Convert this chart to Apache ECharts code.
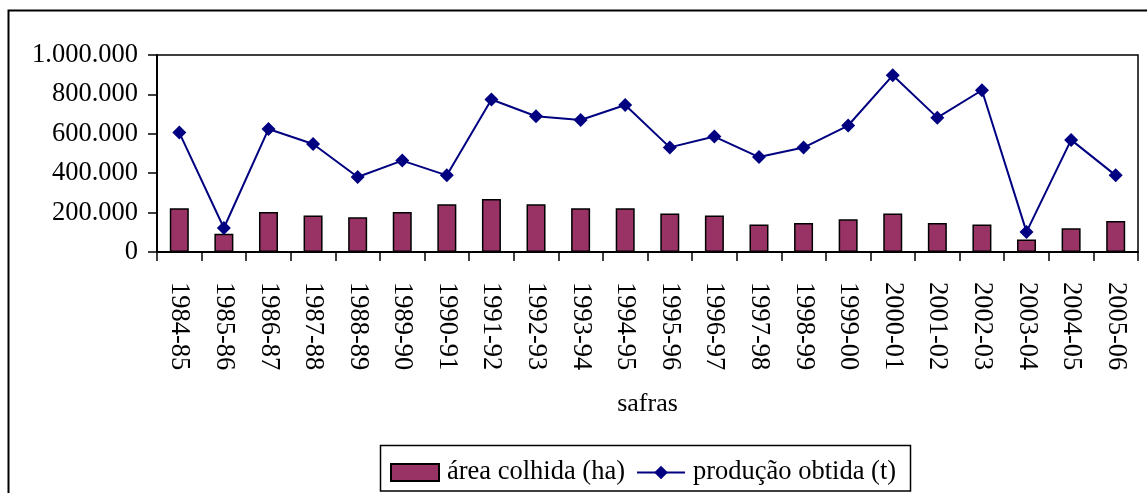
<!DOCTYPE html>
<html>
<head>
<meta charset="utf-8">
<script src="https://cdn.jsdelivr.net/npm/echarts@6/dist/echarts.min.js"></script>
<style>
html,body{margin:0;padding:0;background:#fff;}
#chart{width:1147px;height:493px;}
</style>
</head>
<body>
<div id="chart"></div>
<script>
const categories = ['1984-85','1985-86','1986-87','1987-88','1988-89','1989-90','1990-91','1991-92','1992-93','1993-94','1994-95','1995-96','1996-97','1997-98','1998-99','1999-00','2000-01','2001-02','2002-03','2003-04','2004-05','2005-06'];
const areaColhida = [222000,93000,203000,185000,176000,203000,242000,269000,242000,222000,222000,195000,185000,139000,147000,166000,195000,147000,139000,64000,120000,157000];
const producaoObtida = [606000,122000,624000,548000,381000,464000,389000,774000,689000,670000,746000,531000,586000,482000,530000,642000,897000,682000,821000,102000,569000,389000];
const yTicks = [0,200000,400000,600000,800000,1000000];

const fmt = v => String(v).replace(/\B(?=(\d{3})+(?!\d))/g, '.');
const font = '"Liberation Serif", "Times New Roman", serif';

const chart = echarts.init(document.getElementById('chart'));
chart.setOption({
  animation: false,
  backgroundColor: '#fff',
  textStyle: {fontFamily: font, color: '#000'},
  grid: {left: 157, top: 55, right: 9, bottom: 241, show: true, borderColor: '#000', borderWidth: 1.5, containLabel: false},
  graphic: [
    {type: 'polyline', shape: {points: [[8.5,493],[8.5,10.5],[1147,10.5]]}, style: {stroke: '#000', lineWidth: 2, fill: null}, silent: true},
    {type: 'rect', shape: {x: 380.5, y: 445.5, width: 530, height: 45.5}, style: {stroke: '#000', lineWidth: 1.5, fill: null}, silent: true, z: -1}
  ],
  legend: {
    left: 390, top: 459, padding: 0,
    itemWidth: 48, itemHeight: 17, itemGap: 11,
    textStyle: {fontFamily: font, fontSize: 26.5, color: '#000', padding: [0,0,0,3]},
    data: [{name: 'área colhida (ha)', icon: 'rect'}, {name: 'produção obtida (t)'}]
  },
  xAxis: {
    type: 'category',
    data: categories,
    boundaryGap: true,
    name: 'safras',
    nameLocation: 'middle',
    nameGap: 139,
    nameTextStyle: {fontFamily: font, fontSize: 26, color: '#000'},
    axisLine: {lineStyle: {color: '#000', width: 2}},
    axisTick: {show: true, inside: false, length: 9, alignWithLabel: false, lineStyle: {color: '#000', width: 1.5}},
    axisLabel: {rotate: -90, margin: 30, fontFamily: font, fontSize: 26.5, color: '#000', interval: 0},
    splitLine: {show: false}
  },
  yAxis: {
    type: 'value',
    min: 0, max: 1000000, interval: 200000,
    axisLine: {show: true, lineStyle: {color: '#000', width: 2}},
    axisTick: {show: true, inside: false, length: 9, lineStyle: {color: '#000', width: 1.5}},
    axisLabel: {formatter: v => fmt(v), fontFamily: font, fontSize: 26.5, color: '#000', margin: 19},
    splitLine: {show: false}
  },
  series: [
    {
      name: 'área colhida (ha)', type: 'bar', data: areaColhida, barWidth: 19,
      itemStyle: {color: '#993366', borderColor: '#000', borderWidth: 1.5}
    },
    {
      name: 'produção obtida (t)', type: 'line', data: producaoObtida,
      symbol: 'diamond', symbolSize: 14, showAllSymbol: true,
      lineStyle: {color: '#000080', width: 2},
      itemStyle: {color: '#000080'}
    }
  ]
});
</script>
</body>
</html>
